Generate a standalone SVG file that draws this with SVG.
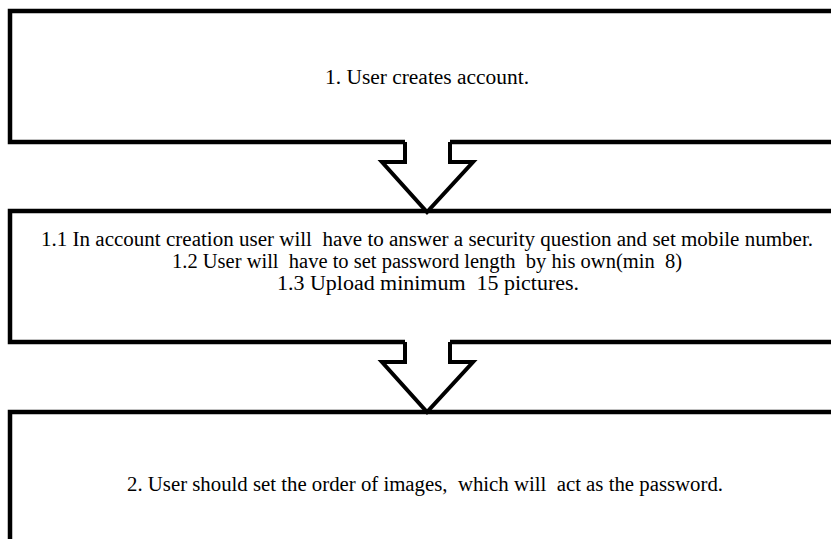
<svg xmlns="http://www.w3.org/2000/svg" width="831" height="539" viewBox="0 0 831 539">
<style>
.box{fill:none;stroke:#000;stroke-width:4.5;stroke-linejoin:miter}
.arr{fill:#fff;stroke:#000;stroke-width:4;stroke-linejoin:miter}
.t{font-family:'Liberation Serif','Times New Roman',serif;font-size:20px;fill:#000;text-anchor:middle}
</style>
<rect x="0" y="0" width="831" height="539" fill="#fff"/>
<g id="node1">
<path class="box" d="M840,11 H10 V142 H405 M450,142 H840"/>
<text class="t" x="427" y="84" textLength="204" lengthAdjust="spacingAndGlyphs">1. User creates account.</text>
</g>
<g id="node2">
<path class="box" d="M840,211 H10 V342 H405 M450,342 H840"/>
<text class="t" x="427" y="246" textLength="772" lengthAdjust="spacingAndGlyphs" xml:space="preserve">1.1 In account creation user will  have to answer a security question and set mobile number.</text>
<text class="t" x="427" y="268" textLength="510" lengthAdjust="spacingAndGlyphs" xml:space="preserve">1.2 User will  have to set password length  by his own(min  8)</text>
<text class="t" x="428" y="290" textLength="302" lengthAdjust="spacingAndGlyphs" xml:space="preserve">1.3 Upload minimum  15 pictures.</text>
</g>
<g id="node3">
<path class="box" d="M840,412 H10 V545"/>
<text class="t" x="425" y="491" textLength="596" lengthAdjust="spacingAndGlyphs" xml:space="preserve">2. User should set the order of images,  which will  act as the password.</text>
</g>
<g id="connectors">
<polyline class="arr" points="405,142 405,162 382,162 427,212 473,162 450,162 450,142"/>
<polyline class="arr" points="405,342 405,362 382,362 427,412 473,362 450,362 450,342"/>
</g>
</svg>
